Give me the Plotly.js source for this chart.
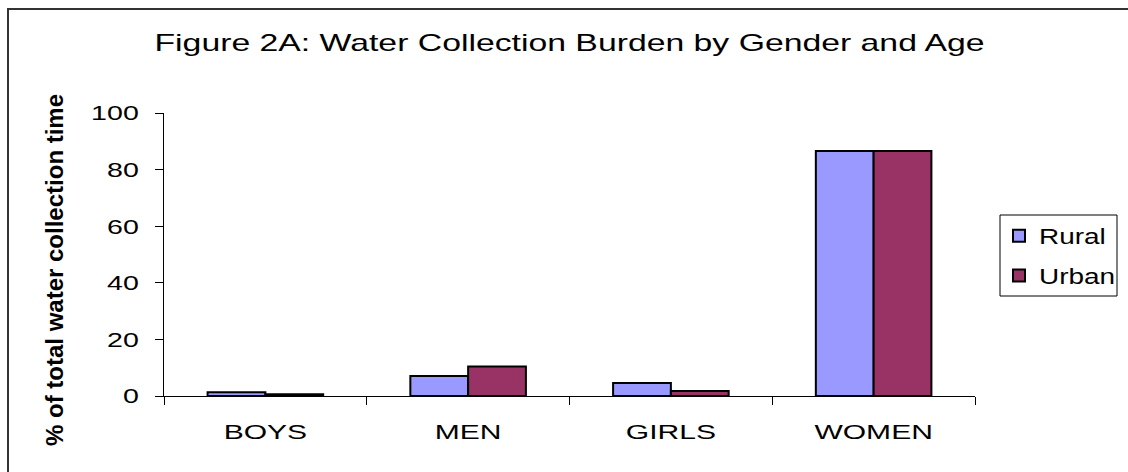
<!DOCTYPE html>
<html>
<head>
<meta charset="utf-8">
<script src="https://cdn.plot.ly/plotly-3.0.1.min.js"></script>
<style>
html,body{margin:0;padding:0;background:#fff;}
#wrap{position:relative;width:1128px;height:472px;}
#chart{width:1128px;height:472px;}
#frame{position:absolute;left:7px;top:8px;width:1125px;height:470px;border-left:2px solid #333;border-top:2px solid #333;pointer-events:none;}
</style>
</head>
<body>
<div id="wrap"><div id="chart"></div><div id="frame"></div></div>
<script>
const categories = ["BOYS", "MEN", "GIRLS", "WOMEN"];
const rural = [1.3, 7.1, 4.6, 86.6];
const urban = [0.6, 10.4, 1.8, 86.6];
const yTicks = [0, 20, 40, 60, 80, 100];

const font = "Liberation Sans, Arial, sans-serif";
const traces = [
  {type: "bar", name: "Rural", x: categories, y: rural, legendgroup: "r",
   marker: {color: "#9999FF", line: {color: "#000", width: 2}}},
  {type: "bar", name: "Urban", x: categories, y: urban, legendgroup: "u",
   marker: {color: "#993366", line: {color: "#000", width: 2}}}
];
const L = 164, R = 975, T = 113, B = 396;
const px = v => (v - L) / (R - L);
const py = v => (B - v) / (B - T);
const layout = {
  width: 1128, height: 472,
  margin: {l: L, r: 1128 - R, t: T, b: 472 - B},
  paper_bgcolor: "#fff", plot_bgcolor: "#fff",
  barmode: "group", bargap: 0.43, bargroupgap: 0,
  font: {family: font, color: "#000"},
  title: {text: "Figure 2A: Water Collection Burden by Gender and Age",
          font: {size: 24, family: font}, x: 0.5, xref: "paper", y: 0.91, yanchor: "middle"},
  xaxis: {showline: true, linecolor: "#000", linewidth: 1, ticks: "outside",
          tickson: "boundaries", ticklen: 8, tickcolor: "#000", ticklabelstandoff: 17,
          tickfont: {size: 21}, showgrid: false, zeroline: false},
  yaxis: {range: [0, 100], tickvals: yTicks, showline: true, linecolor: "#000", linewidth: 1,
          ticks: "outside", ticklen: 8, tickcolor: "#000", tickfont: {size: 21},
          ticklabelstandoff: 12, showgrid: false, zeroline: false},
  annotations: [{text: "<b>% of total water collection time</b>", textangle: -90,
                 xref: "paper", yref: "paper", x: px(54), y: py(270),
                 xanchor: "center", yanchor: "middle", showarrow: false,
                 font: {size: 24, family: font}}],
  shapes: [{type: "rect", xref: "paper", yref: "paper",
            x0: px(1000), x1: px(1117), y0: py(296), y1: py(215),
            line: {color: "#000", width: 1}, fillcolor: "rgba(0,0,0,0)"}],
  legend: {x: px(999), y: py(215), xanchor: "left", yanchor: "top",
           bgcolor: "rgba(0,0,0,0)", borderwidth: 0, font: {size: 22},
           itemwidth: 30, traceorder: "grouped", tracegroupgap: 8},
  showlegend: true
};
Plotly.newPlot("chart", traces, layout, {displayModeBar: false, staticPlot: true}).then(() => {
  const stretch = (sel, f) => document.querySelectorAll(sel).forEach(t => {
    const w = t.getComputedTextLength();
    if (w > 0) {
      t.setAttribute("textLength", (typeof f === "function" ? f(w) : w * f));
      t.setAttribute("lengthAdjust", "spacingAndGlyphs");
    }
  });
  stretch("#chart .xtick text", 1.43);
  stretch("#chart .ytick text", 1.36);
  stretch("#chart .legendtext", 1.27);
  stretch("#chart .gtitle", w => 830);
  document.querySelectorAll("#chart .legend [clip-path], #chart .legend").forEach(e => e.removeAttribute("clip-path"));
});
</script>
</body>
</html>
